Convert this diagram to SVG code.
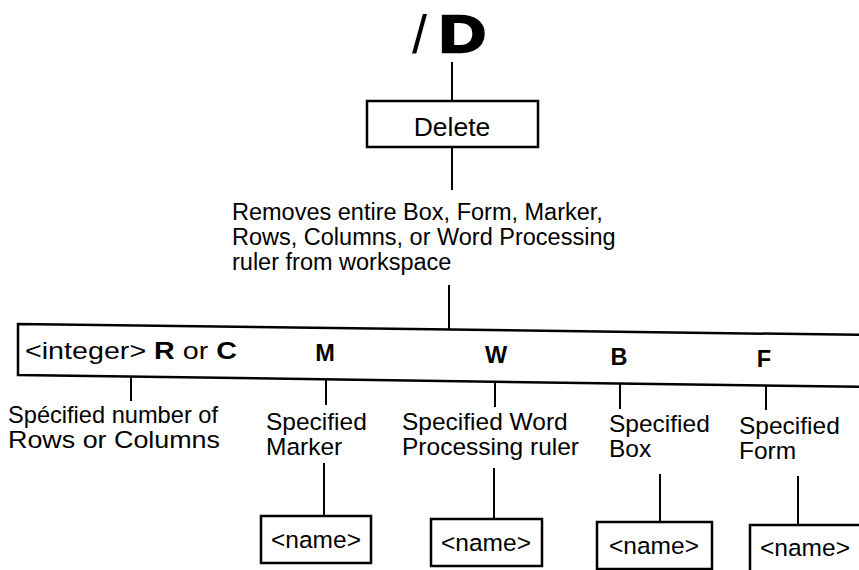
<svg xmlns="http://www.w3.org/2000/svg" width="859" height="570" viewBox="0 0 859 570">
  <style>
    .t { font-family: "Liberation Sans", Arial, Helvetica, sans-serif; font-size: 23.5px; fill: #000; }
    .s { font-size: 24.5px; }
    .b { font-weight: bold; }
    .box { fill: #fff; stroke: #000; stroke-width: 2.5; }
    .ln { stroke: #000; stroke-width: 2; fill: none; }
  </style>
  <rect width="859" height="570" fill="#fff"/>

  <!-- connectors -->
  <g id="connectors">
    <line class="ln" x1="452" y1="62" x2="452" y2="101"/>
    <line class="ln" x1="452" y1="147" x2="452" y2="190"/>
    <line class="ln" x1="449" y1="285" x2="449" y2="330"/>
    <line class="ln" x1="131" y1="376" x2="131" y2="401"/>
    <line class="ln" x1="326" y1="379" x2="326" y2="405"/>
    <line class="ln" x1="495" y1="381" x2="495" y2="407"/>
    <line class="ln" x1="620" y1="383" x2="620" y2="409"/>
    <line class="ln" x1="766" y1="385" x2="766" y2="410"/>
    <line class="ln" x1="324" y1="463" x2="324" y2="516"/>
    <line class="ln" x1="494" y1="468" x2="494" y2="519"/>
    <line class="ln" x1="660" y1="474" x2="660" y2="522"/>
    <line class="ln" x1="798" y1="476" x2="798" y2="525"/>
  </g>

  <!-- command -->
  <g id="command">
    <text class="t" x="412" y="53" style="font-size:54px">/</text>
    <text class="t b" x="439" y="52" style="font-size:52px;stroke:#000;stroke-width:2.4;stroke-linejoin:miter" textLength="47" lengthAdjust="spacingAndGlyphs">D</text>
  </g>

  <g id="delete">
    <rect class="box" x="367" y="101" width="171" height="46"/>
    <text class="t" x="452" y="136" text-anchor="middle" style="font-size:26.5px">Delete</text>
  </g>

  <g id="summary">
    <text class="t" x="232" y="220">Removes entire Box, Form, Marker,</text>
    <text class="t" x="232" y="245">Rows, Columns, or Word Processing</text>
    <text class="t" x="232" y="270">ruler from workspace</text>
  </g>

  <!-- option strip, slightly tilted -->
  <g id="options">
    <polygon class="box" points="870,335 18,324 18,375 870,387"/>
    <text class="t s" x="25" y="359" textLength="212" lengthAdjust="spacingAndGlyphs">&lt;integer&gt; <tspan class="b">R</tspan> or <tspan class="b">C</tspan></text>
    <text class="t b" x="325" y="361" text-anchor="middle">M</text>
    <text class="t b" x="496" y="363" text-anchor="middle">W</text>
    <text class="t b" x="619" y="365" text-anchor="middle">B</text>
    <text class="t b" x="764" y="367" text-anchor="middle">F</text>
  </g>

  <g id="opt-rows">
    <text class="t s" x="8" y="423" textLength="210" lengthAdjust="spacingAndGlyphs">Spécified number of</text>
    <text class="t s" x="8" y="448" textLength="212" lengthAdjust="spacingAndGlyphs">Rows or Columns</text>
  </g>
  <g id="opt-marker">
    <text class="t s" x="266" y="430">Specified</text>
    <text class="t s" x="266" y="455">Marker</text>
  </g>
  <g id="opt-word">
    <text class="t s" x="402" y="430">Specified Word</text>
    <text class="t s" x="402" y="455">Processing ruler</text>
  </g>
  <g id="opt-box">
    <text class="t s" x="609" y="432">Specified</text>
    <text class="t s" x="609" y="457">Box</text>
  </g>
  <g id="opt-form">
    <text class="t s" x="739" y="434">Specified</text>
    <text class="t s" x="739" y="459">Form</text>
  </g>

  <g id="name-marker">
    <rect class="box" x="261" y="516" width="110" height="47"/>
    <text class="t s" x="316" y="548" text-anchor="middle">&lt;name&gt;</text>
  </g>
  <g id="name-word">
    <rect class="box" x="431" y="519" width="111" height="47"/>
    <text class="t s" x="486" y="551" text-anchor="middle">&lt;name&gt;</text>
  </g>
  <g id="name-box">
    <rect class="box" x="597" y="522" width="115" height="47"/>
    <text class="t s" x="654" y="554" text-anchor="middle">&lt;name&gt;</text>
  </g>
  <g id="name-form">
    <rect class="box" x="750" y="525" width="120" height="47"/>
    <text class="t s" x="805" y="556" text-anchor="middle">&lt;name&gt;</text>
  </g>
</svg>
